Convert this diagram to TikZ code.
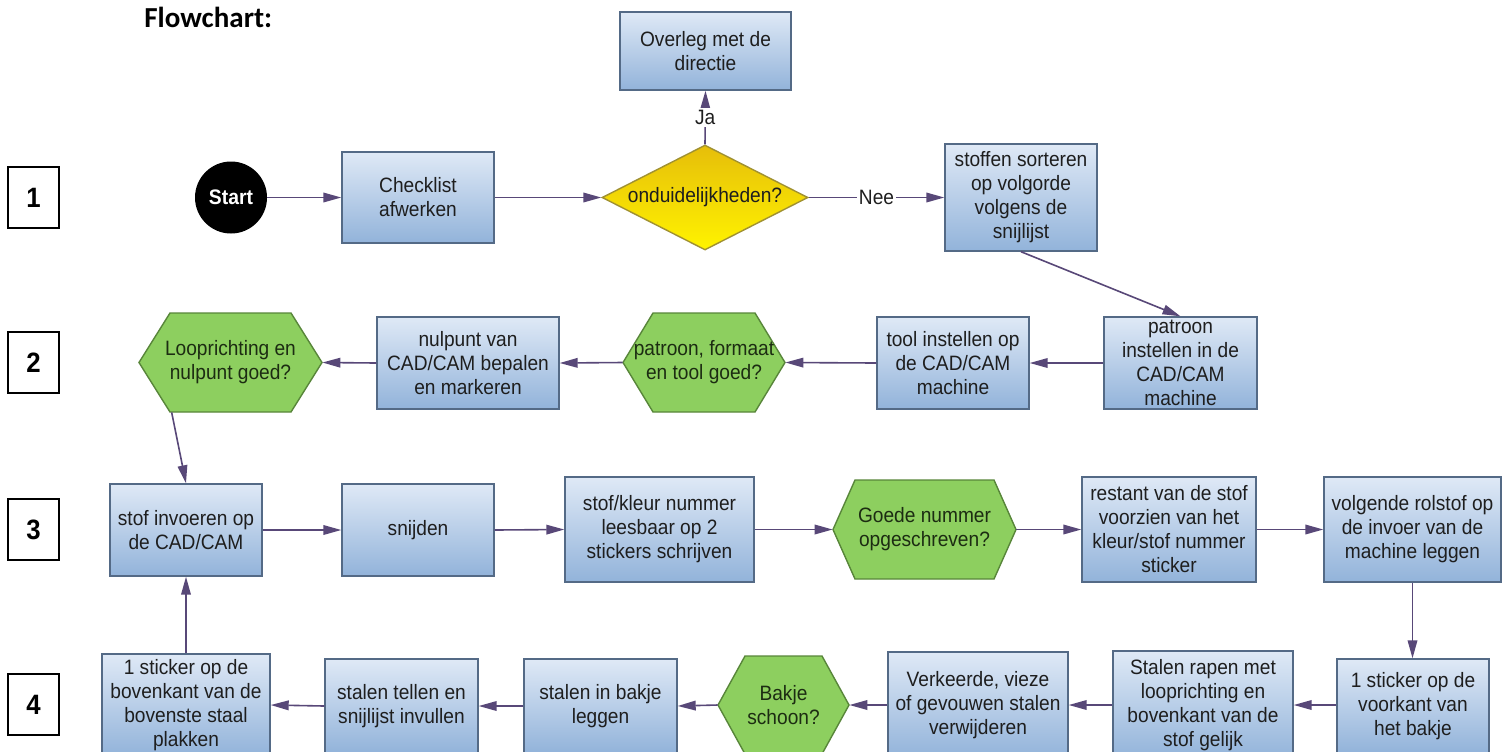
\documentclass[tikz,border=0pt]{standalone}
\usepackage{fontspec}
\setmainfont[FakeStretch=0.92]{Liberation Sans}
\newfontfamily\headfont{Carlito}
\usetikzlibrary{shapes.geometric,arrows.meta,calc}

\definecolor{boxtop}{RGB}{223,233,246}
\definecolor{boxbot}{RGB}{146,179,218}
\definecolor{boxline}{RGB}{84,106,134}
\definecolor{hexfill}{RGB}{141,207,95}
\definecolor{hexline}{RGB}{88,134,58}
\definecolor{hextext}{RGB}{28,44,18}
\definecolor{qtop}{RGB}{230,190,10}
\definecolor{qbot}{RGB}{255,243,0}
\definecolor{qline}{RGB}{160,145,50}
\definecolor{flowc}{RGB}{88,72,120}
\definecolor{txt}{RGB}{30,30,30}

\newcommand\flowtxt{\fontsize{10.4}{12}\selectfont}

\tikzset{
  stepbox/.style={draw=boxline, line width=0.7pt, top color=boxtop, bottom color=boxbot,
    text=txt, align=center, inner sep=0pt, font=\flowtxt},
  hexpath/.style={draw=hexline, line width=0.7pt, fill=hexfill, line join=miter},
  hexlabel/.style={inner sep=0pt, align=center, text=hextext, font=\flowtxt},
  question/.style={diamond, aspect=1.96, draw=qline, line width=0.7pt, top color=qtop,
    bottom color=qbot, text=txt, inner sep=0pt, font=\flowtxt},
  flow/.style={draw=flowc, line width=0.8pt, -{Triangle[length=9pt,width=4.8pt]}},
  rowtag/.style={draw=black, line width=0.6pt, fill=white, inner sep=0pt,
    minimum width=25.5pt, minimum height=30.5pt, font=\fontsize{14}{14}\selectfont\bfseries},
  answer/.style={fill=white, inner sep=1pt, text=txt, font=\flowtxt},
  startnode/.style={circle, fill=black, minimum size=36pt, inner sep=0pt, text=white,
    font=\fontsize{10.5}{12}\selectfont\bfseries},
}

% process box from its corner pixels: name, x1, y1, x2, y2, text
\newcommand\procbox[6]{\node[stepbox, minimum width={(#4-#2)*0.5pt},
  minimum height={(#5-#3)*0.5pt}] (#1) at ({(#2+#4)/2},{(#3+#5)/2}) {#6};}

% hexagonal check: name, x1, y1, x2, y2, point depth, text
\newcommand\hexnode[7]{%
  \path[hexpath] (#2,{(#3+#5)/2}) -- ({#2+#6},#3) -- ({#4-#6},#3) -- (#4,{(#3+#5)/2})
    -- ({#4-#6},#5) -- ({#2+#6},#5) -- cycle;
  \node[hexlabel, minimum width={(#4-#2)*0.5pt}, minimum height={(#5-#3)*0.5pt}]
    (#1) at ({(#2+#4)/2},{(#3+#5)/2}) {#7};}

\begin{document}
\begin{tikzpicture}[x=0.5pt,y=-0.5pt]
\useasboundingbox (0,0) rectangle (1509,751);
\clip (0,0) rectangle (1509,751);
\fill[white] (0,0) rectangle (1509,751);

\node[anchor=base west, inner sep=0pt,
  font=\headfont\fontsize{14.5}{16}\selectfont\bfseries] (title) at (144,27) {Flowchart:};

% row numbers
\node[rowtag] (r1) at (33.5,197.5) {1};
\node[rowtag] (r2) at (33.5,362.5) {2};
\node[rowtag] (r3) at (33.5,529.5) {3};
\node[rowtag] (r4) at (33.5,704.5) {4};

% row 1
\node[startnode] (start) at (231,197.5) {Start};
\procbox{checklist}{342}{152}{494}{243}{Checklist\\afwerken}
\node[question, minimum width=103pt, minimum height=52.5pt] (q) at (705,197.5) {onduidelijkheden?};
\procbox{overleg}{620}{12}{791}{90}{Overleg met de\\directie}
\procbox{stoffen}{945}{144}{1097}{251}{stoffen sorteren\\op volgorde\\volgens de\\snijlijst}

% row 2
\hexnode{loop}{139}{313}{322}{412}{31}{Looprichting en\\nulpunt goed?}
\procbox{nulpunt}{377}{317}{559}{409}{nulpunt van\\CAD/CAM bepalen\\en markeren}
\hexnode{formaat}{623}{313}{785}{412}{30}{patroon, formaat\\en tool goed?}
\procbox{tool}{877}{317}{1029}{409}{tool instellen op\\de CAD/CAM\\machine}
\procbox{patroon}{1104}{317}{1257}{409}{patroon\\instellen in de\\CAD/CAM\\machine}

% row 3
\procbox{invoeren}{110}{484}{262}{576}{stof invoeren op\\de CAD/CAM}
\procbox{snijden}{342}{484}{494}{576}{snijden}
\procbox{kleur}{565}{477}{754}{582}{stof/kleur nummer\\leesbaar op 2\\stickers schrijven}
\hexnode{goede}{833}{480}{1016}{579}{22}{Goede nummer\\opgeschreven?}
\procbox{restant}{1082}{477}{1256}{582}{restant van de stof\\voorzien van het\\kleur/stof nummer\\sticker}
\procbox{volgende}{1324}{477}{1501}{582}{volgende rolstof op\\de invoer van de\\machine leggen}

% row 4
\procbox{voorkant}{1337}{659}{1489}{753}{1 sticker op de\\voorkant van\\het bakje}
\procbox{rapen}{1113}{651}{1293}{759}{Stalen rapen met\\looprichting en\\bovenkant van de\\stof gelijk}
\procbox{verkeerde}{888}{652}{1068}{758}{Verkeerde, vieze\\of gevouwen stalen\\verwijderen}
\hexnode{bakje}{718}{656}{849}{754}{27}{Bakje\\schoon?}
\procbox{inbakje}{524}{659}{677}{753}{stalen in bakje\\leggen}
\procbox{tellen}{325}{659}{478}{753}{stalen tellen en\\snijlijst invullen}
\procbox{bovenkant}{102}{654}{270}{756}{1 sticker op de\\bovenkant van de\\bovenste staal\\plakken}

% connectors
\draw[flow] (start) -- (checklist);
\draw[flow] (checklist) -- (q);
\draw[flow] (q.north) -- node[answer] {Ja} (overleg.south);
\draw[flow] (q.east) -- node[answer] {Nee} (stoffen.west);
\draw[flow] (stoffen.south) -- (patroon.north);

\draw[flow] (patroon.west) -- (tool.east);
\draw[flow] (tool.west) -- (formaat.east);
\draw[flow] (formaat.west) -- (nulpunt.east);
\draw[flow] (nulpunt.west) -- (loop.east);
\draw[flow] ($(loop.south west)!0.18!(loop.south east)$) -- (invoeren.north);

\draw[flow] (invoeren.east) -- (snijden.west);
\draw[flow] (snijden.east) -- (kleur.west);
\draw[flow] (kleur.east) -- (goede.west);
\draw[flow] (goede.east) -- (restant.west);
\draw[flow] (restant.east) -- (volgende.west);
\draw[flow] (volgende.south) -- (volgende.south |- voorkant.north);

\draw[flow] (voorkant.west |- rapen.east) -- (rapen.east);
\draw[flow] (rapen.west) -- (verkeerde.east);
\draw[flow] (verkeerde.west) -- (bakje.east);
\draw[flow] (bakje.west) -- (inbakje.east);
\draw[flow] (inbakje.west) -- (tellen.east);
\draw[flow] (tellen.west) -- (bovenkant.east);
\draw[flow] (bovenkant.north) -- (invoeren.south);
\end{tikzpicture}
\end{document}
